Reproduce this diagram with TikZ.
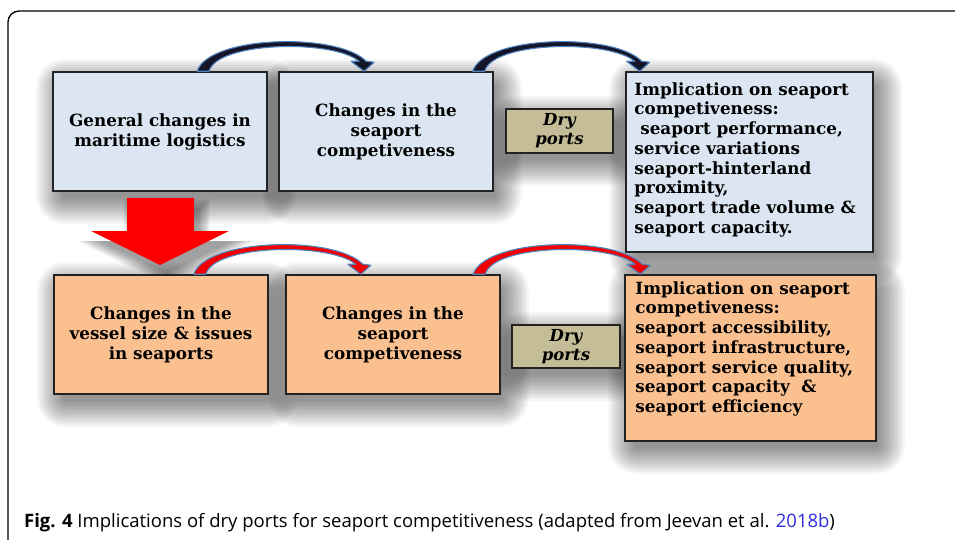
\documentclass[tikz,border=0pt]{standalone}
\usepackage{fontspec}
\setmainfont{DejaVu Serif}
\newfontfamily\capfont{Open Sans}
\usetikzlibrary{calc}
\pgfdeclarelayer{back}
\pgfdeclarelayer{shadowlayer}
\pgfsetlayers{back,shadowlayer,main}
\definecolor{boxblue}{HTML}{DCE6F2}
\definecolor{boxorange}{HTML}{FAC090}
\definecolor{dryfill}{HTML}{C4BD97}
\definecolor{arcblue}{HTML}{4F81BD}
\definecolor{arcdark}{HTML}{15152A}
\definecolor{arcred}{HTML}{F00000}
\definecolor{linkblue}{HTML}{2F2FE0}
\definecolor{edge}{HTML}{222222}
\newcommand\softshad[1]{%
  \begin{pgfonlayer}{shadowlayer}
  \foreach \rr in {-4,-2,...,22}{%
    \fill[black, opacity=0.034, rounded corners={\rr pt+6pt}]
      ($(#1.north west)+(6-\rr,10-\rr)$) rectangle ($(#1.south east)+(6+\rr,10+\rr)$);
  }
  \end{pgfonlayer}}
\tikzset{
  box/.style={draw=edge, line width=1.5pt, inner sep=0pt, align=center,
     font=\bfseries\fontsize{16.8}{20}\selectfont},
  bluebox/.style={box, fill=boxblue},
  orangebox/.style={box, fill=boxorange},
  drybox/.style={draw=edge, line width=1.5pt, fill=dryfill, inner sep=0pt, align=center,
     font=\bfseries\itshape\fontsize{16.5}{19}\selectfont},
  listtext/.style={inner sep=0pt, align=left, anchor=north west,
     font=\bfseries\fontsize{16.8}{19.7}\selectfont},
  pics/carrow/.style={code={
    \filldraw[fill=#1, draw=arcblue, line width=1.1pt, line join=round]
      (-6,0) .. controls (6,-36) and (135,-39) .. (163,-10) -- (171,-9) -- (161,0)
      -- (148,-10) -- (156,-10) .. controls (130,-32) and (14,-30) .. (6,0) -- cycle;
  }}
}
\begin{document}
\begin{tikzpicture}[x=1pt,y=-1pt]
\useasboundingbox (0,0) rectangle (955,540);
\begin{pgfonlayer}{back}
\fill[white] (0,0) rectangle (955,540);
\end{pgfonlayer}
\draw[line width=1.3pt, rounded corners=11pt] (8,560) |- (975,11);

% top row
\node[bluebox, minimum width=214pt, minimum height=119pt] (A) at (160,131.5)
  {General changes in\\maritime logistics};
\node[bluebox, minimum width=214pt, minimum height=119pt] (B) at (386,131.5)
  {Changes in the\\seaport\\competiveness};
\node[drybox, minimum width=107pt, minimum height=44pt] (DA) at (559.5,131)
  {Dry\\ports};
\node[bluebox, minimum width=247pt, minimum height=180pt] (C) at (749.5,162) {};
\node[listtext] (Ct) at ($(C.north west)+(9,11)$)
  {Implication on seaport\\competiveness:\\\ seaport performance,\\service variations\\seaport-hinterland\\proximity,\\seaport trade volume \&\\seaport capacity.};

% red down arrow
\begin{pgfonlayer}{shadowlayer}
\foreach \rr in {0.96,0.99,...,1.3}{%
  \fill[black, opacity=0.035, shift={(6,10)}, scale around={\rr:(160,231)}]
    (127,198) -- (194,198) -- (194,231) -- (229,231) -- (160,265)
    -- (91,231) -- (127,231) -- cycle;
}
\end{pgfonlayer}
\fill[red] (127,198) -- (194,198) -- (194,231) -- (229,231) -- (160,265)
  -- (91,231) -- (127,231) -- cycle;

% bottom row
\node[orangebox, minimum width=214pt, minimum height=119pt] (D) at (161,334.5)
  {Changes in the\\vessel size \& issues\\in seaports};
\node[orangebox, minimum width=214pt, minimum height=119pt] (E) at (393,334.5)
  {Changes in the\\seaport\\competiveness};
\node[drybox, minimum width=108pt, minimum height=43pt] (DB) at (566,346.5)
  {Dry\\ports};
\node[orangebox, minimum width=251pt, minimum height=166pt] (F) at (750.5,358) {};
\node[listtext] (Ft) at ($(F.north west)+(11,7)$)
  {Implication on seaport\\competiveness:\\seaport accessibility,\\seaport infrastructure,\\seaport service quality,\\seaport capacity\ \ \&\\seaport efficiency};

\softshad{A}\softshad{B}\softshad{DA}\softshad{C}
\softshad{D}\softshad{E}\softshad{DB}\softshad{F}

% curved arrows
\coordinate (s1) at ($(A.north west)!0.70!(A.north east)$);
\coordinate (s2) at ($(B.north west)!0.93!(B.north east)$);
\coordinate (s3) at ($(D.north west)!0.68!(D.north east)$);
\coordinate (s4) at ($(E.north west)!0.90!(E.north east)$);
\pic at (s1) {carrow=arcdark};
\pic at (s2) {carrow=arcdark};
\pic at (s3) {carrow=arcred};
\pic at (s4) {carrow=arcred};

% caption
\node[anchor=base west, inner sep=0pt, font=\capfont\fontsize{18.5}{20}\selectfont] (cap) at (24,527)
  {\textbf{Fig. 4} Implications of dry ports for seaport competitiveness (adapted from Jeevan et al. \textcolor{linkblue}{2018b})};
\end{tikzpicture}
\end{document}
